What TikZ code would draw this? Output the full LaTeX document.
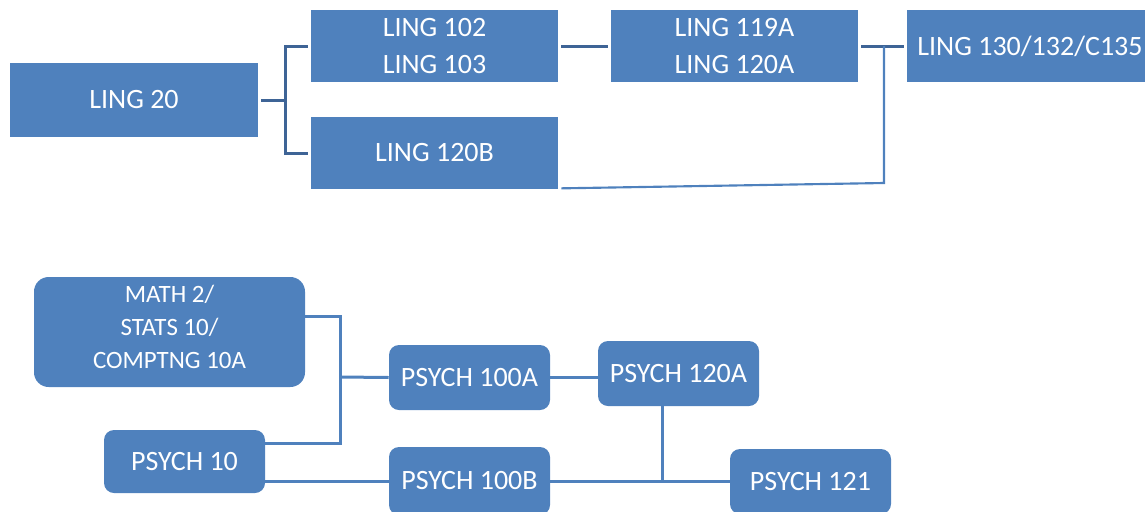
\documentclass[tikz,border=0pt]{standalone}
\usepackage{fontspec}
\setmainfont{Carlito}
\usepackage{tikz}
\usetikzlibrary{calc}

\definecolor{boxblue}{RGB}{79,129,189}
\definecolor{lineblue}{RGB}{62,100,150}

\begin{document}
\begin{tikzpicture}[x=0.75pt, y=-0.75pt,
 every text node part/.style={align=center},
block/.style={rectangle, inner sep=0pt, outer sep=2.5pt, fill=boxblue, text=white, font=\fontsize{21}{27.75}\selectfont},
rblock/.style={rectangle, inner sep=0pt, rounded corners=7.5pt, fill=boxblue, text=white, font=\fontsize{21}{24}\selectfont},
link/.style={draw=lineblue, line width=2.25pt},
thinlink/.style={draw=boxblue, line width=1.6pt},
link2/.style={draw=boxblue, line width=2.25pt}]

	\useasboundingbox (0,0) rectangle (1145,511);

	% linguistics track
	\node[block, minimum width=186pt, minimum height=55.5pt] (ling20) at (134,100) {LING 20};
	\node[block, minimum width=185.25pt, minimum height=54pt] (ling102) at (434.5,46) {LING 102\\ LING 103};
	\node[block, minimum width=185.25pt, minimum height=54pt] (ling120b) at (434.5,153) {LING 120B};
	\node[block, minimum width=185.25pt, minimum height=54pt] (ling119a) at (734.5,46) {LING 119A\\ LING 120A};
	\node[block, minimum width=178.5pt, minimum height=54pt] (ling130) at (1026,46) {\hspace*{6pt}LING 130/132/C135};

	\coordinate (lsplit) at (285,100);
	\coordinate (ljoin) at (884,46);
	\coordinate (lfoot) at (884,183);

	\draw[link] (ling20) -- (lsplit) |- (ling102.west);
	\draw[link] (lsplit) |- (ling120b.west);
	\draw[link] (ling102) -- (ling119a);
	\draw[link] (ling119a) -- (ling130);
	\draw[thinlink] ([yshift=3pt]ling120b.south east) -- (lfoot) -- (ljoin);

	% psychology track
	\node[rblock, rounded corners=11pt, minimum width=203.25pt, minimum height=82.5pt, font=\fontsize{18.7}{24.75}\selectfont] (math) at (169.5,332) {\raisebox{-2pt}[0pt][0pt]{\begin{tabular}{@{}c@{}}MATH 2/\\ STATS 10/\\ COMPTNG 10A\end{tabular}}};
	\node[rblock, minimum width=120.75pt, minimum height=47.25pt] (psych10) at (184.5,461.5) {PSYCH 10};
	\node[rblock, minimum width=120.75pt, minimum height=48.75pt] (psych100a) at (469.5,377.5) {PSYCH 100A};
	\node[rblock, minimum width=120.75pt, minimum height=51pt] (psych100b) at (469.5,481) {PSYCH 100B};
	\node[rblock, minimum width=120.75pt, minimum height=48.75pt] (psych120a) at (678.5,373.5) {PSYCH 120A};
	\node[rblock, minimum width=120.75pt, minimum height=48.75pt] (psych121) at (810.5,481.5) {PSYCH 121};

	\coordinate (ptop) at (340,316);
	\coordinate (pmid) at (340,377);
	\coordinate (pbot) at (340,443);
	\coordinate (prow) at (662,481);

	\draw[link2] (math.east |- ptop) -- (ptop) -- (pbot) -- (psych10.east |- pbot);
	\draw[link2] (pmid) -- (psych100a.west);
	\draw[link2] (psych100a.east) -- (psych100a.east -| psych120a.west);
	\draw[link2] (psych10.east |- prow) -- (psych100b.west |- prow);
	\draw[link2] (psych100b.east |- prow) -- (psych121.west |- prow);
	\draw[link2] (psych120a.south -| prow) -- (prow);
\end{tikzpicture}
\end{document}
